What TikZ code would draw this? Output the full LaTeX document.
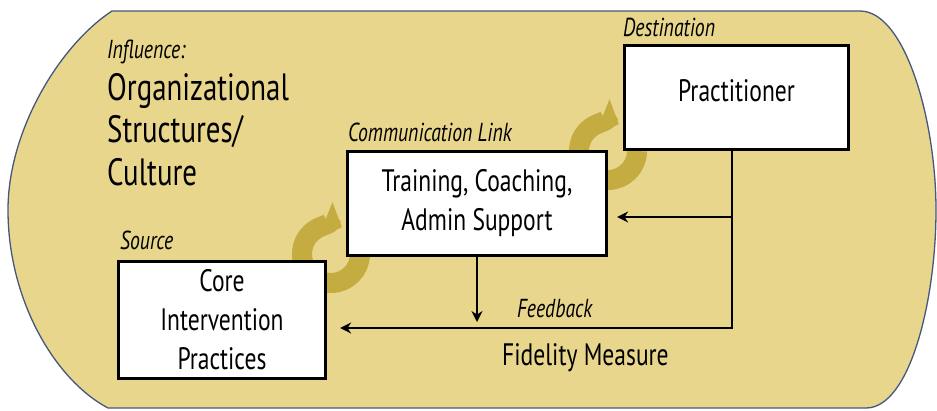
\documentclass[tikz,border=0pt]{standalone}
\usepackage{fontspec}
\setmainfont{PT Sans}
\newfontfamily\narrowfont{PT Sans}[FakeStretch=0.76]
\usetikzlibrary{arrows.meta,positioning}

\definecolor{sand}{HTML}{E8D68C}
\definecolor{ochre}{HTML}{C4AC40}
\definecolor{rim}{HTML}{45577D}

\tikzset{
  block/.style={draw, line width=3.2pt, fill=white, align=center, inner sep=0pt,
    font=\narrowfont\fontsize{31}{39}\selectfont},
  tag/.style={font=\narrowfont\itshape\fontsize{26}{30}\selectfont, inner sep=0pt, anchor=base west},
  plain/.style={font=\narrowfont\fontsize{31}{39}\selectfont, inner sep=0pt, anchor=base west, align=left},
  feed/.style={line width=2.6pt, -{Stealth[length=11pt,width=11pt]}},
  swirl/.style={ochre, line width=20pt, -{Triangle[length=18pt,width=38pt]}},
}

\begin{document}
\begin{tikzpicture}[x=1pt,y=-1pt]
\useasboundingbox (0,0) rectangle (937,410);

% setting
\filldraw[fill=sand, draw=rim, line width=1.3pt] (112,11) -- (860,11)
  .. controls (905,11) and (936,120) .. (936,210)
  .. controls (936,300) and (910,408) .. (866,408) -- (108,408)
  .. controls (55,380) and (8,300) .. (8,210)
  .. controls (8,130) and (60,45) .. (112,11) -- cycle;

% swirls between the boxes
\draw[swirl] (331,254) ++(0:29) arc[start angle=0, end angle=292, radius=29];
\draw[swirl] (608,151) ++(0:29) arc[start angle=0, end angle=292, radius=29];

% boxes
\node[block, minimum width=207pt, minimum height=117pt] (core) at (222,320) {Core\\Intervention\\Practices};
\node[block, minimum width=259pt, minimum height=104pt] (link) at (477,203.5) {Training, Coaching,\\Admin Support};
\node[block, minimum width=224pt, minimum height=104pt, text depth=13pt] (pract) at (736.5,97.5) {Practitioner};

% labels
\node[tag, above right=10pt and 3pt of core.north west, anchor=base west] (source) {Source};
\node[tag, above right=8pt and 2pt of link.north west, anchor=base west] (commlink) {Communication Link};
\node[tag, above right=7pt and 0pt of pract.north west, anchor=base west] (dest) {Destination};
\node[tag] (influence) at (107,58) {Influence:};
\node[plain, font=\narrowfont\fontsize{38}{42.5}\selectfont] (culture) at (107,185) {Organizational\\Structures/\\Culture};
\node[tag] (feedback) at (517,317) {Feedback};
\node[plain] (fidelity) at (502,365) {Fidelity Measure};

% feedback loop
\coordinate (corner) at (732,328);
\coordinate (split) at (732,217);
\draw[feed] (pract.south -| corner) -- (corner) -- ([xshift=13pt]corner -| core.east);
\draw[feed] (split) -- ([xshift=9pt]split -| link.east);
\draw[feed] (link.south) -- ([yshift=6pt]link.south |- corner);
\end{tikzpicture}
\end{document}
